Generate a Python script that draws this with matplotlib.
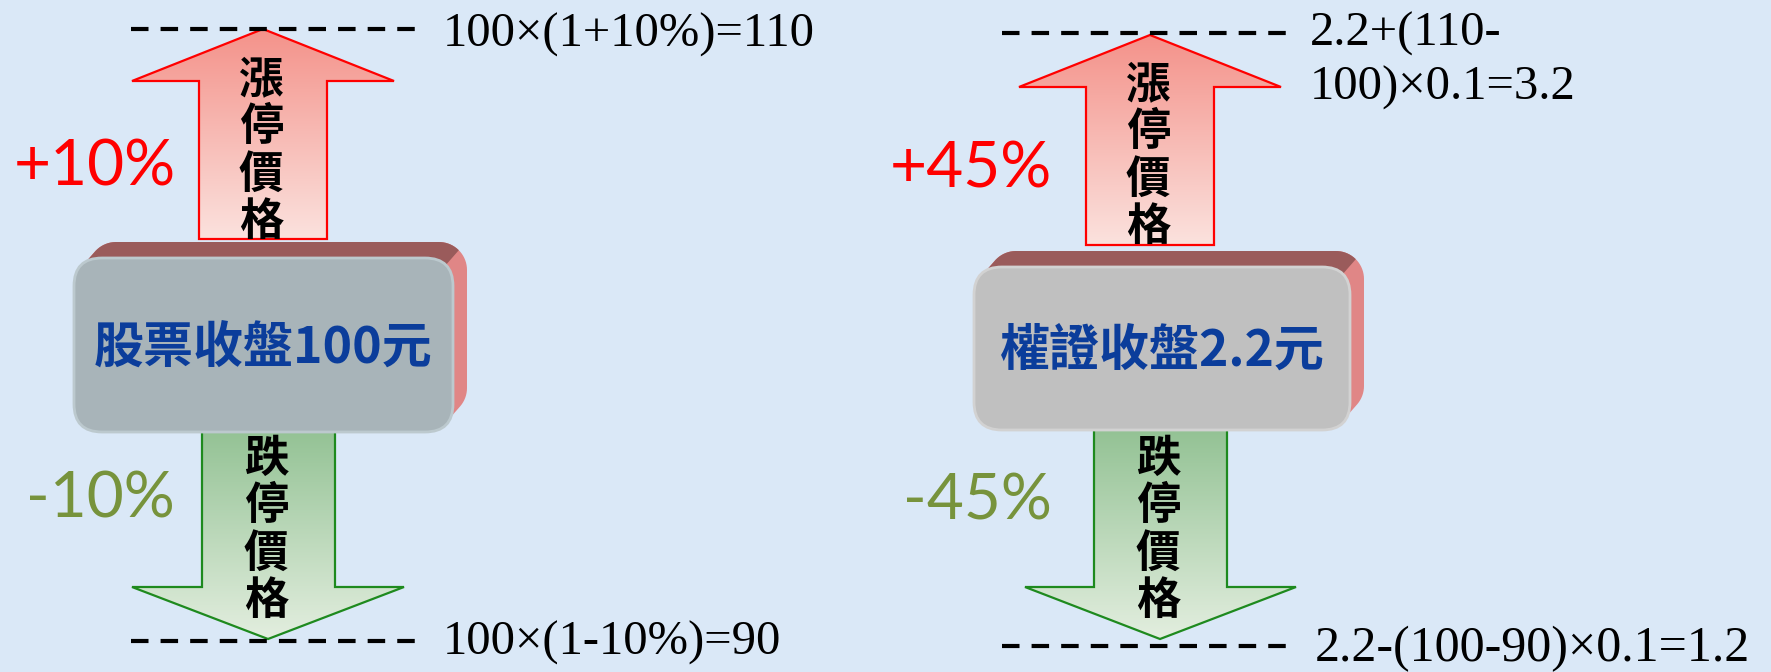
import numpy as np
import matplotlib
matplotlib.use('Agg')
import matplotlib.pyplot as plt
from matplotlib.patches import Polygon, FancyBboxPatch
from matplotlib.colors import to_rgb

W, H = 1771, 672

# content
box_labels = ['股票收盤100元', '權證收盤2.2元']
up_pct = ['+10%', '+45%']
down_pct = ['-10%', '-45%']
up_formula = ['100×(1+10%)=110', '2.2+(110-\n100)×0.1=3.2']
down_formula = ['100×(1-10%)=90', '2.2-(100-90)×0.1=1.2']
up_word = '漲停價格'
down_word = '跌停價格'
box_colors = ['#A8B4B9', '#C0C0C0']
box_edges = ['#BCC9CE', '#D2D2D2']

# layout (pixels, y down)
up_arrows = [(263, 29, 81, 132, 394, 199, 327, 239),
             (1150, 35, 87, 1019, 1281, 1086, 1214, 245)]
down_arrows = [(268, 639, 587, 132, 404, 202, 335, 429),
               (1160, 639, 587, 1025, 1296, 1094, 1227, 429)]
up_word_y = [151, 156]
down_word_y = [530, 530]
boxes = [(74, 258, 453, 432), (974, 267, 1350, 430)]
dash_x = [(131, 421), (1002, 1294)]
dash_y = [(29, 641), (33, 646)]

bg = '#DAE8F7'
cjk = ['Noto Sans CJK TC', 'DejaVu Sans']
serif = ['Liberation Serif', 'Noto Sans CJK TC', 'DejaVu Sans']

fig = plt.figure(figsize=(W / 100, H / 100), dpi=100, facecolor=bg)
ax = fig.add_axes([0, 0, 1, 1])
ax.set_facecolor(bg)


def arrow_poly(tx, ty, hy, hl, hr, sl, sr, end):
    return [(tx, ty), (hr, hy), (sr, hy), (sr, end), (sl, end), (sl, hy), (hl, hy)]


def grad_arrow(pts, c_top, c_bot, edge):
    patch = Polygon(pts, closed=True, fc='none', ec=edge, lw=1.6, zorder=3)
    ax.add_patch(patch)
    xs = [p[0] for p in pts]
    ys = [p[1] for p in pts]
    g = np.linspace(0, 1, 256)[:, None, None]
    img = (1 - g) * np.array(to_rgb(c_top)) + g * np.array(to_rgb(c_bot))
    im = ax.imshow(img, extent=(min(xs), max(xs), max(ys), min(ys)), origin='upper',
                   aspect='auto', interpolation='bilinear', zorder=2)
    im.set_clip_path(patch)


def hull(points):
    pts = sorted(set(points))

    def cross(o, a, b):
        return (a[0] - o[0]) * (b[1] - o[1]) - (a[1] - o[1]) * (b[0] - o[0])
    lower, upper = [], []
    for p in pts:
        while len(lower) >= 2 and cross(lower[-2], lower[-1], p) <= 0:
            lower.pop()
        lower.append(p)
    for p in reversed(pts):
        while len(upper) >= 2 and cross(upper[-2], upper[-1], p) <= 0:
            upper.pop()
        upper.append(p)
    return lower[:-1] + upper[:-1]


def box3d(x0, y0, x1, y1, face, edge, dx=14, dy=-16, r=28):
    t = np.linspace(0, 2 * np.pi, 72)
    pts = []
    for ox, oy in [(0, 0), (dx, dy)]:
        for cx, cy in [(x0 + r, y0 + r), (x1 - r, y0 + r), (x1 - r, y1 - r), (x0 + r, y1 - r)]:
            pts += [(round(cx + ox + r * np.cos(a), 2), round(cy + oy + r * np.sin(a), 2)) for a in t]
    side = Polygon(hull(pts), closed=True, fc='#E08686', ec='none', zorder=4)
    ax.add_patch(side)
    px, py = x1 - 0.293 * r, y0 + 0.293 * r
    A = (px + 100 * dx, py + 100 * dy)
    B = (px - 100 * dx, py - 100 * dy)
    top = Polygon([A, B, (B[0], A[1])], closed=True, fc='#9A5B5B', ec='none', zorder=4.5)
    ax.add_patch(top)
    top.set_clip_path(side)
    ax.add_patch(FancyBboxPatch((x0, y0), x1 - x0, y1 - y0,
                                boxstyle=f'round,pad=0,rounding_size={r}',
                                fc=face, ec=edge, lw=2, zorder=5))


for i in range(2):
    grad_arrow(arrow_poly(*up_arrows[i]), '#F4928A', '#FBE2DE', '#FF0000')
    grad_arrow(arrow_poly(*down_arrows[i]), '#93C294', '#E3EEDF', '#1E8A1E')
    box3d(*boxes[i], box_colors[i], box_edges[i])

    x0, x1 = dash_x[i]
    for y in dash_y[i]:
        ax.plot([x0, x1], [y, y], color='black', lw=3.0, dashes=(4.2, 2.9),
                solid_capstyle='butt', dash_capstyle='butt', zorder=6)

    bx0, by0, bx1, by1 = boxes[i]
    ax.text((bx0 + bx1) / 2, (by0 + by1) / 2 + 3, box_labels[i], family=cjk, weight='bold',
            fontsize=36, color='#0B3D9B', ha='center', va='center', zorder=7)

    ax.text(up_arrows[i][0] - 2, up_word_y[i], '\n'.join(up_word), family=cjk, weight='bold',
            fontsize=32, ha='center', va='center', linespacing=1.04, zorder=7)
    ax.text(down_arrows[i][0] - 2, down_word_y[i], '\n'.join(down_word), family=cjk, weight='bold',
            fontsize=32, ha='center', va='center', linespacing=1.04, zorder=7)

ax.text(95, 185, up_pct[0], family=['Lato'], fontsize=46, color='#FF0000', ha='center', va='baseline')
ax.text(100, 518, down_pct[0], family=['Lato'], fontsize=46, color='#77933C', ha='center', va='baseline')
ax.text(971, 188, up_pct[1], family=['Lato'], fontsize=46, color='#FF0000', ha='center', va='baseline')
ax.text(977, 520, down_pct[1], family=['Lato'], fontsize=46, color='#77933C', ha='center', va='baseline')

ax.text(443, 47, up_formula[0], family=serif, fontsize=35, ha='left', va='baseline')
ax.text(443, 655, down_formula[0], family=serif, fontsize=35, ha='left', va='baseline')
ax.text(1310, 100, up_formula[1], family=serif, fontsize=35, ha='left', va='baseline', linespacing=1.3)
ax.text(1315, 661, down_formula[1], family=serif, fontsize=36, ha='left', va='baseline')

ax.set_xlim(0, W)
ax.set_ylim(H, 0)
ax.axis('off')
fig.savefig('out.png', dpi=100, facecolor=bg)
